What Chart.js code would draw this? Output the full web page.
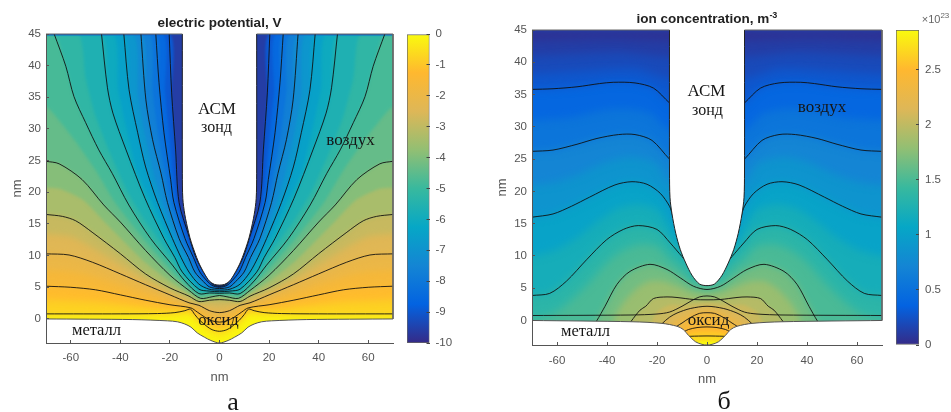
<!DOCTYPE html>
<html><head><meta charset="utf-8">
<script src="https://cdn.jsdelivr.net/npm/chart.js@4"></script>
<style>
html,body{margin:0;padding:0;background:#fff;width:951px;height:412px;overflow:hidden}
canvas{position:absolute}
.t{position:absolute;white-space:nowrap;line-height:1;transform:translate(-50%,-50%)}
.s{font-family:"Liberation Serif",serif;color:#161616}
.b{font-family:"Liberation Sans",sans-serif;font-weight:bold;font-size:13.5px;color:#222}
sup{font-size:9px;line-height:0}
</style></head><body>
<canvas id="pa"></canvas><canvas id="ca"></canvas><canvas id="pb"></canvas><canvas id="cb"></canvas>
<div class="t b" style="left:219.5px;top:23px">electric potential, V</div>
<div class="t b" style="left:707px;top:19px">ion concentration, m<sup>-3</sup></div>
<div class="t" style="left:935.5px;top:19px;font:11px 'Liberation Sans',sans-serif;color:#666">×10<sup style="font-size:8px">23</sup></div>
<div class="t s" style="left:217px;top:108px;font-size:17px">АСМ</div>
<div class="t s" style="left:216.5px;top:127px;font-size:16px">зонд</div>
<div class="t s" style="left:350.5px;top:139px;font-size:17px">воздух</div>
<div class="t s" style="left:96.5px;top:330px;font-size:16.5px">металл</div>
<div class="t s" style="left:218.5px;top:320px;font-size:16.5px">оксид</div>
<div class="t s" style="left:706.5px;top:90px;font-size:17px">АСМ</div>
<div class="t s" style="left:707.5px;top:110px;font-size:16px">зонд</div>
<div class="t s" style="left:822px;top:106px;font-size:17px">воздух</div>
<div class="t s" style="left:585.5px;top:331px;font-size:16.5px">металл</div>
<div class="t s" style="left:708.5px;top:319px;font-size:17px">оксид</div>
<div class="t s" style="left:233px;top:402px;font-size:26px">а</div>
<div class="t s" style="left:724px;top:401px;font-size:26px">б</div>
<script>
// ---- axes
const xTicks=[-60,-40,-20,0,20,40,60];
const yTicks=[0,5,10,15,20,25,30,35,40,45];
const potTicks=[0,-1,-2,-3,-4,-5,-6,-7,-8,-9,-10];
const ionTicks=[0,0.5,1,1.5,2,2.5];
const parula=['#352a87','#0363e1','#1485d4','#06a7c6','#38b99e','#92bf73','#deb757','#ffb82f','#f9fb0e'];

// ---- panel a: half profiles [x nm, y nm] from the axis of symmetry outwards
const aProbe=[[0,5.35],[2,5.45],[4,5.95],[6,7.1],[8.5,9],[11.3,12],[12.5,13.7],[14,16.5],[14.8,19],[15,23],[15,45]];
const aSurface=[[0,-3.8],[3.5,-3.4],[6,-2.9],[9,-2.2],[11.5,-1.3],[14,-0.8],[17,-0.45],[21,-0.3],[35,-0.1],[70,0]];
const aC1=[[0,-1.95],[3,-1.7],[5,-1.2],[8,-0.2],[10,0.7],[11.7,1.55],[14,1.3],[18,1],[25,0.85],[40,0.8],[70,0.8]];
const aC2=[[0,-0.5],[3,-0.3],[6,0.3],[9,1.1],[11.6,1.75],[20,2.24],[30,2.97],[40,3.8],[50,4.6],[60,5],[70,5.17]];
const aC3=[[0,1],[4,1.3],[8.3,2.15],[12.3,2.55],[20,3.8],[29.8,5.4],[39.9,7.1],[51.3,8.96],[60.7,10.1],[70,10.28]];
const aC4=[[0,3.05],[4,2.95],[8.3,2.75],[12.3,3.6],[20,4.9],[29.8,7.1],[40,10.3],[51.4,13.7],[58,15.5],[63.4,16.2],[70,16.5]];
const aC5=[[0,3.7],[3,3.5],[7.6,3.25],[12.3,4.5],[20,6.9],[29.8,10.8],[40,15.3],[46.7,18],[55.4,22],[64.7,24.5],[70,24.9]];
const aC6=[[0,4.05],[4,4.1],[8.3,4],[14,6],[19,8.5],[27.8,12.7],[36.6,18],[43.3,23],[48.7,26.7],[54,31],[58.7,35.1],[62,39.9],[66.7,45]];
const aC7=[[0,4.3],[4.2,4.4],[8.3,4.7],[15,7.4],[18,9.7],[22.4,12.7],[30,19],[37.7,26.7],[43,32.5],[45.2,36.5],[47.6,45]];
const aC8=[[0,4.55],[4.2,4.7],[8.3,5.5],[12.3,7.4],[15.5,9.7],[19,12.7],[25,18.4],[29.8,24],[33,29.4],[36.5,36.2],[38.6,45]];
const aC9=[[0,4.8],[4,5.05],[6.5,5.9],[9.9,7.4],[12.5,9.7],[16.3,12.7],[21,18.4],[23.6,23],[27,28.3],[29.7,34.6],[31.7,45]];
const aC10=[[0,5],[3,5.3],[5,6],[7.9,7.4],[10.5,9.7],[13.9,12.7],[18.4,18.4],[19.7,22],[22.4,29.4],[24.4,37.3],[25.7,45]];
const aC11=[[0,5.15],[3,5.55],[6.4,7.4],[9.5,9.7],[12,12.7],[16.3,18.4],[17.7,26.7],[19.3,35.7],[20.3,45]];
// unstroked shading levels between the contours
const aS1=[[0,-2.7],[3,-2.3],[5,-1.7],[8,-0.6],[11,0.6],[14,0.6],[20,0.5],[70,0.45]];
const aS2=[[0,-1.2],[5,-0.5],[9,0.5],[11.6,1.65],[14,1.6],[20,1.6],[30,1.9],[50,2.7],[70,3]];
const aS3=[[0,0.2],[5,0.7],[9.5,1.9],[12.3,2.15],[20,3],[30,4.15],[40,5.45],[51,6.8],[60,7.5],[70,7.7]];
const aS4=[[0,2.1],[5,2.3],[8.5,2.5],[12.3,3.05],[20,4.35],[30,6.2],[40,8.6],[51,11.2],[60,13],[70,13.4]];
const aS5=[[0,3.35],[4,3.2],[8,3],[12.3,4.05],[20,5.9],[30,8.95],[40,12.8],[47,15.6],[55,18.8],[64,20.5],[70,20.7]];
const aS6=[[0,3.9],[4,3.9],[8.3,3.65],[14,5.4],[20,7.9],[30,12.3],[42,18.3],[50,23.5],[58,28],[64,31],[70,33.5]];
const aS7=[[0,4.18],[4,4.25],[8.3,4.35],[14,6.7],[20,10],[30,15.5],[37,20],[44,26],[50,32],[54,38],[57,45]];
const aS8=[[0,4.42],[4.2,4.55],[8.3,5.1],[14,8.2],[20,12.4],[27.5,18.5],[33,23],[37.5,30],[41,36.5],[43,45]];
const aS9=[[0,4.68],[4,4.85],[8.3,6],[11,7.4],[14,10],[17.6,12.7],[23,18.4],[26.5,23],[30,29],[33,35.5],[35,45]];
const aS10=[[0,4.9],[4,5.2],[5,5.5],[9,7.4],[11.5,9.7],[15,12.7],[19.7,18.4],[21.7,22.5],[24.7,29],[27,36],[28.7,45]];
const aS11=[[0,5.07],[3,5.42],[7.2,7.4],[10,9.7],[13,12.7],[17.3,18.4],[18.3,21],[20,28],[22,36],[23,45]];
const aLevels=[-0.3,-0.6,-1,-1.35,-1.8,-2.2,-2.65,-3.1,-3.65,-4.17,-4.58,-5,-5.42,-5.83,-6.25,-6.67,-7.08,-7.5,-7.92,-8.33,-8.75,-9.17];
const aSoft=[3,3,3,3,3,3,3,2,1.5,1.5,1.5,1.5,1.5,1.5,1.5,1.5,1.2,1.2,1.2,1,1,1];
const aIso=[aS1,aC1,aS2,aC2,aS3,aC3,aS4,aC4,aS5,aC5,aS6,aC6,aS7,aC7,aS8,aC8,aS9,aC9,aS10,aC10,aS11,aC11];
const aContours=[aC1,aC2,aC3,aC4,aC5,aC6,aC7,aC8,aC9,aC10,aC11];

// ---- panel b
const bProbe=[[0,5.4],[3,5.65],[6,7],[8.5,8.9],[10.7,11],[12.5,13.5],[14,16.5],[14.8,19],[15,23],[15,45]];
const bSurface=[[0,-3.8],[2,-3.7],[4.6,-3.3],[7.4,-2.3],[9.5,-1.4],[12,-0.9],[18,-0.45],[30,-0.2],[70,0]];
const bK1=[[0,33],[14,33.5],[15,33.7],[21.4,36],[28.8,36.8],[37.5,36.9],[43,36.7],[52,36.2],[61.6,35.9],[70,35.8]];
const bK2=[[0,25],[14,24.9],[15,25],[22,27.9],[28.8,28.8],[35.4,28.8],[44,28.2],[52,27.3],[61.6,26.4],[70,26.2]];
const bK3=[[0,14],[12,15],[15,17.7],[18.7,19.7],[24,21.1],[30,21.5],[36.8,21],[47,19.1],[54.2,17.7],[61.6,16.5],[70,16]];
const bK4=[[0,7],[6,8.2],[10,9.9],[14.7,12],[20,14.1],[27.5,14.7],[33.5,14.1],[40.2,12.5],[48.2,9.4],[56.2,6.1],[62.9,4.2],[70,3.87]];
const bK5=[[0,4.8],[5.4,5.3],[10.7,6.6],[16,7.9],[22.8,8.7],[30.8,7.6],[36,5.6],[40.8,2.2],[44.2,-0.1],[46,-1]];
const bK6=[[0,3.2],[5.4,3.25],[12,3.56],[16,3.65],[21.4,3.4],[24.5,2.2],[26.8,1.6],[30.3,-0.1],[32,-1]];
const bK7=[[0,2.2],[6.7,1.85],[12,1.15],[15,0.5],[18,-0.5],[19,-1]];
const bK8=[[0,1.2],[3,1.1],[6.9,0.4],[10,-0.4],[12,-0.9],[13,-1.5]];
const bK9=[[0,-1],[4,-1.1],[7.4,-1.4],[9,-1.7]];
const bK10=[[0,-2.4],[6.7,-2.45],[8,-2.5]];
const bFlat=[[0,3.8],[3,3.65],[6,3.1],[10,2.2],[15,1.3],[20,1],[30,0.85],[70,0.77]];
const bS1=[[0,-3.2],[4,-3.3],[6,-3.9]];
const bS2=[[0,-1.7],[5,-1.8],[8,-2.2],[10,-3]];
const bS3=[[0,0.1],[5,-0.1],[8,-0.7],[10,-1.3],[12,-2]];
const bS4=[[0,1.7],[6,1.2],[10,0.5],[14,-0.4],[15,-1]];
const bS5=[[0,2.7],[6,2.5],[10,2.4],[15,2.4],[20,1.3],[24,-1]];
const bS6=[[0,4],[6,4.3],[12,5.3],[18,6.1],[23,6.1],[28,5],[33,3],[37,0.5],[38,-1]];
const bS7=[[0,5.8],[6,6.3],[10,8],[15,9.5],[20,11.5],[27,11.8],[34,10.8],[40,9],[48,5.5],[56,2.6],[62,1],[70,0.3]];
const bS8=[[12,12],[15,14.5],[20,17.2],[28,18],[36,17.3],[45,15],[52,12.8],[60,11],[70,10]];
const bS9=[[15,21.5],[20,24.3],[27,25.2],[33,25.3],[42,24.3],[50,22.8],[60,21.5],[70,21]];
const bS10=[[15,29.5],[22,32],[29,32.7],[37,32.8],[45,32.3],[55,31.4],[70,31]];
const bS11=[[15,37.5],[28,39],[38,39],[70,38.2]];
const bS12=[[15,40.8],[35,41.6],[70,41]];
const bS13=[[15,43.5],[40,43.8],[70,43.5]];
const bLevels=[2.75,2.62,2.55,2.45,2.38,2.3,2.2,2.1,2,1.9,1.74,1.58,1.42,1.27,1.11,0.95,0.79,0.63,0.47,0.32,0.24,0.16,0.08];
const bSoft=[1,1,1,1,1,1,1,1,1.5,1.5,3,3,4,4,4,4,4,4,4,4,4,4,4];
const bIso=[bS1,bK10,bS2,bK9,bS3,bK8,bS4,bK7,bS5,bK6,bS6,bK5,bS7,bK4,bS8,bK3,bS9,bK2,bS10,bK1,bS11,bS12,bS13];
const bContours=[bK1,bK2,bK3,bK4,bK5,bK6,bK7,bK8,bK9,bK10,bFlat];

// ---- helpers
function hex(c){return [1,3,5].map(i=>parseInt(c.substr(i,2),16));}
function colorAt(t){t=Math.max(0,Math.min(1,t))*(parula.length-1);const i=Math.min(parula.length-2,Math.floor(t)),f=t-i,a=hex(parula[i]),b=hex(parula[i+1]);
  return 'rgb('+a.map((v,k)=>Math.round(v+(b[k]-v)*f)).join(',')+')';}
const mirror=h=>[...h.slice().reverse().map(([x,y])=>({x:-x,y})),...h.filter(p=>p[0]!==0).map(([x,y])=>({x,y}))];
const line={pointRadius:0,pointHoverRadius:0,tension:0.3,fill:false};
function bandData(h){const p=mirror(h);return [{x:-82,y:p[0].y},...p,{x:82,y:p[p.length-1].y}];}

function field(iso,levels,soft,base,top,baseY,norm,contours,probe,surface){
  const ds=[];
  ds.push({...line,data:[{x:-82,y:baseY},{x:82,y:baseY}],borderWidth:0,fill:'end',backgroundColor:colorAt(norm(base)),soft:0});
  iso.forEach((h,i)=>{
    const up=i+1<levels.length?levels[i+1]:top;
    ds.push({...line,tension:0.2,data:bandData(h),borderWidth:0,fill:'end',backgroundColor:colorAt(norm((levels[i]+up)/2)),soft:soft[i]});
  });
  contours.forEach(h=>ds.push({...line,data:mirror(h),borderColor:'rgba(15,15,15,.88)',borderWidth:1}));
  ds.push({...line,data:mirror(probe),borderWidth:0,fill:'end',backgroundColor:'#fff'});
  ds.push({...line,data:bandData(surface),borderWidth:0,fill:'start',backgroundColor:'#fff'});
  ds.push({...line,data:mirror(probe),borderColor:'#222',borderWidth:1,clip:false});
  ds.push({...line,data:mirror(surface),borderColor:'#555',borderWidth:1,clip:false});
  const t={...line,tension:0,borderColor:'#666',borderWidth:1,clip:false};
  ds.push({...t,data:[{x:-70,y:45},{x:-15,y:45}]});
  ds.push({...t,data:[{x:15,y:45},{x:70,y:45}]});
  ds.push({...t,data:[{x:70,y:45},{x:70,y:0}]});
  ds.forEach((d,i)=>{d.order=ds.length-i;});
  return ds;
}
// soft edges between the shading levels: each level sets the filter of the one drawn after it
const softPlugin={id:'soft',
  beforeDatasetsDraw(c){c.ctx.filter='none';},
  afterDatasetDraw(c,a){const n=c.data.datasets[a.index+1];c.ctx.filter=n&&n.soft?'blur('+n.soft+'px)':'none';},
  afterDatasetsDraw(c){c.ctx.filter='none';}};
const axisFont={family:"'Liberation Sans',sans-serif",size:11.5};
const titleFont={family:"'Liberation Sans',sans-serif",size:13};
const tickColor='#555';
function panel(id,left,top,w,h,yW,xH,padTop,padR,yTitlePad,xTitlePad,xTickPad,ds){
  const cv=document.getElementById(id);cv.width=w;cv.height=h;cv.style.left=left+'px';cv.style.top=top+'px';
  return new Chart(cv,{type:'line',data:{datasets:ds},plugins:[softPlugin],options:{
    responsive:false,animation:false,devicePixelRatio:1,events:[],
    layout:{padding:{left:0,right:padR,top:padTop,bottom:0}},
    plugins:{legend:{display:false},tooltip:{enabled:false}},
    scales:{
      x:{type:'linear',min:-70,max:70,afterBuildTicks:s=>{s.ticks=xTicks.map(value=>({value}));},afterFit:s=>{s.height=xH;},
        border:{color:'#555',z:2},grid:{drawOnChartArea:false,tickLength:-3,color:'#555',z:2},
        ticks:{padding:xTickPad,font:axisFont,color:tickColor,maxRotation:0,autoSkip:false,callback:v=>String(v)},
        title:{display:true,text:'nm',color:tickColor,font:titleFont,padding:{top:0,bottom:xTitlePad}}},
      y:{type:'linear',min:-3.8,max:45,afterBuildTicks:s=>{s.ticks=yTicks.map(value=>({value}));},afterFit:s=>{s.width=yW;},
        border:{color:'#555',z:2},grid:{drawOnChartArea:false,tickLength:-3,color:'#555',z:2},
        ticks:{padding:8,font:axisFont,color:tickColor,autoSkip:false,callback:v=>String(v)},
        title:{display:true,text:'nm',color:tickColor,font:titleFont,padding:{top:yTitlePad,bottom:0}}}
    }}});
}
function colorbar(id,left,top,w,h,padL,barW,padTop,padBottom,axW,lo,hi,ticks){
  const cv=document.getElementById(id);cv.width=w;cv.height=h;cv.style.left=left+'px';cv.style.top=top+'px';
  return new Chart(cv,{type:'bar',data:{labels:['scale'],datasets:[{data:[[lo,hi]],barPercentage:1,categoryPercentage:1,borderWidth:1,borderColor:'#666',borderSkipped:false,
    backgroundColor(ctx){const a=ctx.chart.chartArea;if(!a)return '#888';const g=ctx.chart.ctx.createLinearGradient(0,a.bottom,0,a.top);parula.forEach((c,i)=>g.addColorStop(i/(parula.length-1),c));return g;}}]},
    options:{responsive:false,animation:false,devicePixelRatio:1,events:[],
      layout:{padding:{left:padL,right:w-padL-barW-axW,top:padTop,bottom:padBottom}},
      plugins:{legend:{display:false},tooltip:{enabled:false}},
      scales:{x:{display:false},
        y:{position:'right',type:'linear',min:lo,max:hi,afterBuildTicks:s=>{s.ticks=ticks.map(value=>({value}));},afterFit:s=>{s.width=axW;s.paddingTop=0;s.paddingBottom=0;},
          border:{display:false},grid:{drawOnChartArea:false,tickLength:-3,color:'#444',z:2},
          ticks:{padding:9,font:axisFont,color:tickColor,autoSkip:false,callback:v=>String(v)}}}}});
}
panel('pa',0,0,400,390,46,47,34,7,10,5,11,
  field(aIso,aLevels,aSoft,-0.12,-10,-3.8,v=>(v+10)/10,aContours,aProbe,aSurface));
panel('pb',490,0,400,392,42,47,30,8,5,5,11.5,
  field(bIso,bLevels,bSoft,2.85,0,-3.8,v=>v/2.86,bContours,bProbe,bSurface));
colorbar('ca',400,0,60,360,7,22.5,34,17,30,-10,0,potTicks);
colorbar('cb',890,0,61,362,6,23,30,17,32,0,2.86,ionTicks);
</script></body></html>
